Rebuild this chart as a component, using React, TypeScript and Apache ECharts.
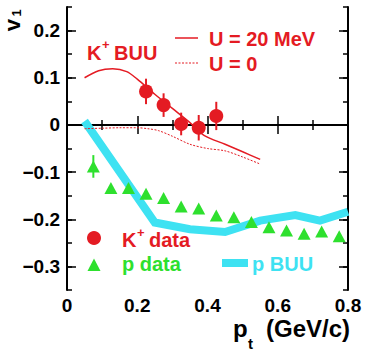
import React, { useEffect, useRef } from "react";
import * as echarts from "echarts";

// ---- data ----
const kPt = [0.225, 0.275, 0.325, 0.375, 0.425];
const kV1 = [0.071, 0.042, 0.002, -0.006, 0.019];
const kErr = [0.027, 0.025, 0.024, 0.027, 0.03];

const pPt = [0.075, 0.125, 0.175, 0.225, 0.275, 0.325, 0.375, 0.425, 0.475, 0.525, 0.575, 0.625, 0.675, 0.725, 0.775];
const pV1 = [-0.088, -0.134, -0.134, -0.146, -0.155, -0.173, -0.177, -0.192, -0.196, -0.206, -0.217, -0.224, -0.231, -0.226, -0.236];
const pErr = [0.024, 0.006, 0.006, 0.006, 0.006, 0.006, 0.006, 0.006, 0.006, 0.006, 0.006, 0.006, 0.006, 0.006, 0.006];

const u20Pt = [0.05, 0.09, 0.13, 0.17, 0.2, 0.25, 0.3, 0.35, 0.39, 0.45, 0.5, 0.55];
const u20V1 = [0.1, 0.115, 0.119, 0.113, 0.097, 0.065, 0.035, 0.005, -0.022, -0.041, -0.057, -0.073];

const u0Pt = [0.05, 0.1, 0.15, 0.2, 0.23, 0.26, 0.3, 0.35, 0.4, 0.45, 0.5, 0.55];
const u0V1 = [-0.008, -0.007, -0.006, -0.006, -0.008, -0.012, -0.024, -0.041, -0.05, -0.055, -0.068, -0.083];

const pBuuPt = [0.05, 0.25, 0.35, 0.45, 0.55, 0.65, 0.72, 0.8];
const pBuuV1 = [0.008, -0.207, -0.221, -0.227, -0.203, -0.191, -0.203, -0.184];

const zeroLineX = [0, 0.8];

const yMajor = [-0.3, -0.2, -0.1, 0, 0.1, 0.2];

const RED = "#e41b23";
const GREEN = "#2ee02e";
const CYAN = "#3ee2f2";
const FONT = "'Liberation Sans', Arial, Helvetica, sans-serif";

const zip = (xs: number[], ys: number[], es?: number[]) =>
  xs.map((x, i) => (es ? [x, ys[i], es[i]] : [x, ys[i]]));

const fmtY = (v: number) => {
  const t = Math.round(v * 10);
  if (Math.abs(t - v * 10) > 1e-6) return "";
  if (t === 0) return "0";
  return (t / 10).toFixed(1).replace("-", "\u2212");
};

const errBar = (color: string) => (params: any, api: any) => {
  const x = api.value(0);
  const y = api.value(1);
  const e = api.value(2);
  const a = api.coord([x, y - e]);
  const b = api.coord([x, y + e]);
  return {
    type: "line",
    shape: { x1: a[0], y1: a[1], x2: b[0], y2: b[1] },
    style: { stroke: color, lineWidth: 2 },
  };
};

const txt = (text: string, x: number, y: number, size: number, fill: string, extra: any = {}) => ({
  type: "text",
  x,
  y,
  style: {
    text,
    fontSize: size,
    fontWeight: "bold",
    fontFamily: FONT,
    fill,
    align: "left",
    verticalAlign: "middle",
    ...extra,
  },
  z: 100,
});

export default function App() {
  const ref = useRef<HTMLDivElement>(null);
  useEffect(() => {
    if (!ref.current) return;
    const chart = echarts.init(ref.current, undefined, { renderer: "svg" });
    const axisLine = { show: true, lineStyle: { color: "#000", width: 2 } };
    const xBase = {
      type: "value",
      min: 0,
      max: 0.8,
      interval: 0.2,
      splitLine: { show: false },
      axisLine,
      axisTick: { show: true, inside: true, length: 9, lineStyle: { color: "#000", width: 1.5 } },
      minorTick: { show: true, splitNumber: 2, length: 5, lineStyle: { color: "#000", width: 1.5 } },
    };
    const yBase = {
      type: "value",
      min: -0.35,
      max: 0.25,
      interval: 0.05,
      splitLine: { show: false },
    };
    const yMinor = {
      ...yBase,
      axisLine,
      axisTick: { show: true, inside: true, length: 5, lineStyle: { color: "#000", width: 1.5 } },
    };
    const yMajorAx = {
      ...yBase,
      axisLine: { show: false },
      axisLabel: { show: false },
      axisTick: {
        show: true,
        inside: true,
        length: 9,
        customValues: yMajor,
        lineStyle: { color: "#000", width: 1.5 },
      },
    };
    chart.setOption({
      animation: false,
      backgroundColor: "#fff",
      grid: { left: 67, right: 22, top: 7, bottom: 63, containLabel: false },
      xAxis: [
        {
          ...xBase,
          position: "bottom",
          axisLabel: {
            show: true,
            margin: 6,
            color: "#000",
            fontSize: 19,
            fontWeight: "bold",
            fontFamily: FONT,
            formatter: (v: number) => (v === 0 ? "0" : v.toFixed(1)),
          },
        },
        { ...xBase, position: "top", axisLabel: { show: false } },
      ],
      yAxis: [
        {
          ...yMinor,
          position: "left",
          axisLabel: {
            show: true,
            margin: 7,
            color: "#000",
            fontSize: 19,
            fontWeight: "bold",
            fontFamily: FONT,
            customValues: yMajor,
            formatter: fmtY,
          },
        },
        { ...yMajorAx, position: "left" },
        { ...yMinor, position: "right", axisLabel: { show: false } },
        { ...yMajorAx, position: "right" },
      ],
      series: [
        {
          type: "line",
          data: zeroLineX.map((x) => [x, 0]),
          symbol: "none",
          lineStyle: { color: "#000", width: 1, type: [7, 2, 1, 2] },
          z: 1,
        },
        {
          type: "line",
          data: zip(pBuuPt, pBuuV1),
          symbol: "none",
          lineStyle: { color: CYAN, width: 8, cap: "butt", join: "miter" },
          z: 2,
        },
        {
          type: "line",
          data: zip(u20Pt, u20V1),
          symbol: "none",
          smooth: 0.3,
          lineStyle: { color: RED, width: 1.5 },
          z: 3,
        },
        {
          type: "line",
          data: zip(u0Pt, u0V1),
          symbol: "none",
          smooth: 0.3,
          lineStyle: { color: RED, width: 1, type: [2, 1.5] },
          z: 3,
        },
        {
          type: "custom",
          data: zip(pPt, pV1, pErr),
          renderItem: errBar(GREEN),
          z: 4,
        },
        {
          type: "scatter",
          data: zip(pPt, pV1),
          symbol: "triangle",
          symbolSize: [13, 12],
          itemStyle: { color: GREEN, opacity: 1 },
          z: 5,
        },
        {
          type: "custom",
          data: zip(kPt, kV1, kErr),
          renderItem: errBar(RED),
          z: 4,
        },
        {
          type: "scatter",
          data: zip(kPt, kV1),
          symbol: "circle",
          symbolSize: 14,
          itemStyle: { color: RED, opacity: 1 },
          z: 5,
        },
      ],
      graphic: [
        // y title
        { ...txt("v", 12, 25, 22, "#000", { align: "center" }), rotation: Math.PI / 2 },
        { ...txt("1", 16, 13, 13, "#000", { align: "center" }), rotation: Math.PI / 2 },
        // x title
        txt("p", 233, 328, 24, "#000"),
        txt("t", 248, 343, 15, "#000"),
        txt("(GeV/c)", 350, 328, 24, "#000", { align: "right" }),
        // K+ BUU
        txt("K", 87, 53, 20, RED),
        txt("+", 102, 44, 13, RED),
        txt("BUU", 114, 53, 20, RED),
        // U legends
        { type: "line", shape: { x1: 175, y1: 38, x2: 198, y2: 38 }, style: { stroke: RED, lineWidth: 1.5 }, z: 100 },
        txt("U = 20 MeV", 209, 39, 20, RED),
        { type: "line", shape: { x1: 175, y1: 63, x2: 198, y2: 63 }, style: { stroke: RED, lineWidth: 1, lineDash: [2, 1.5] }, z: 100 },
        txt("U = 0", 209, 64, 20, RED),
        // bottom legend
        { type: "circle", shape: { cx: 94, cy: 238, r: 7 }, style: { fill: RED }, z: 100 },
        txt("K", 122, 240, 20, RED),
        txt("+", 137, 232, 13, RED),
        txt("data", 149, 240, 20, RED),
        { type: "polygon", shape: { points: [[94, 258.5], [87.5, 271], [100.5, 271]] }, style: { fill: GREEN }, z: 100 },
        txt("p data", 122, 264, 20, GREEN),
        { type: "line", shape: { x1: 222, y1: 263, x2: 248, y2: 263 }, style: { stroke: CYAN, lineWidth: 8 }, z: 100 },
        txt("p BUU", 252, 264, 20, CYAN),
      ],
    });
    return () => chart.dispose();
  }, []);
  return (
    <div
      ref={ref}
      style={{ position: "absolute", left: 0, top: 0, width: 370, height: 353, background: "#fff" }}
    />
  );
}
